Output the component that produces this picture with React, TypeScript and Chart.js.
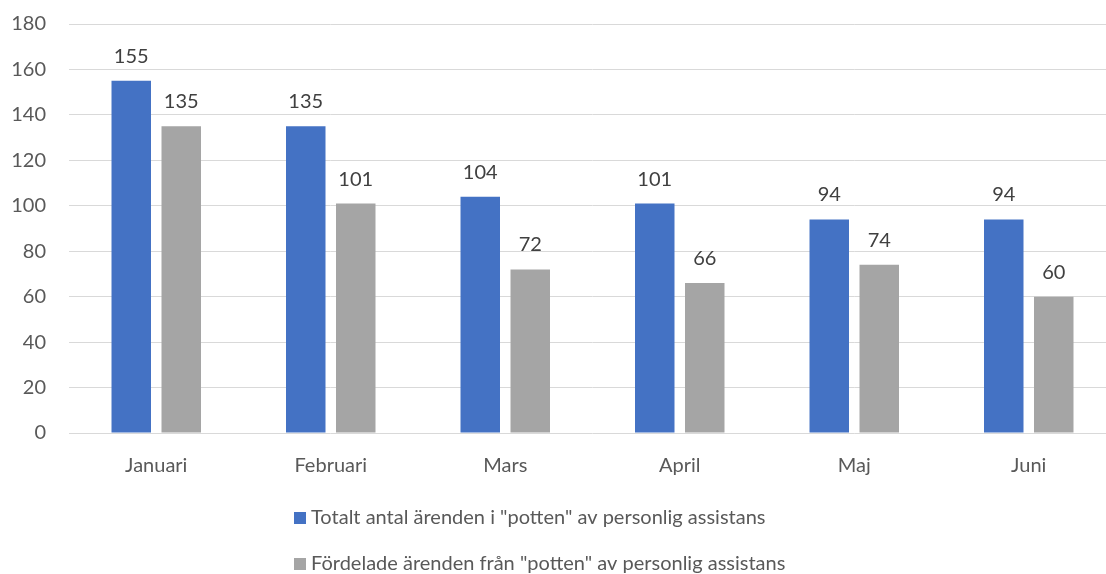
import React, { useEffect, useRef } from "react";
import { Chart, registerables } from "chart.js";

Chart.register(...registerables);

const months = ["Januari", "Februari", "Mars", "April", "Maj", "Juni"];
const totalCases = [155, 135, 104, 101, 94, 94];
const distributedCases = [135, 101, 72, 66, 74, 60];
const seriesLabels = [
  'Totalt antal ärenden i "potten" av personlig assistans',
  'Fördelade ärenden från "potten" av personlig assistans',
];
const seriesColors = ["#4472C4", "#A5A5A5"];
const yMin = 0;
const yMax = 180;
const yStep = 20;

const FONT = 'Lato, "Open Sans", sans-serif';
const FONT_SIZE = 20;

const dataLabelPlugin = {
  id: "dataLabels",
  afterDatasetsDraw(chart: any) {
    const ctx = chart.ctx;
    ctx.save();
    ctx.font = `${FONT_SIZE}px ${FONT}`;
    ctx.fillStyle = "#404040";
    ctx.textAlign = "center";
    ctx.textBaseline = "alphabetic";
    chart.data.datasets.forEach((ds: any, i: number) => {
      const meta = chart.getDatasetMeta(i);
      meta.data.forEach((bar: any, j: number) => {
        ctx.fillText(String(ds.data[j]), bar.x, bar.y - 18);
      });
    });
    ctx.restore();
  },
};

const stackedLegendPlugin = {
  id: "stackedLegend",
  afterDraw(chart: any) {
    const ctx = chart.ctx;
    ctx.save();
    ctx.font = `${FONT_SIZE}px ${FONT}`;
    ctx.textBaseline = "middle";
    ctx.textAlign = "left";
    const left = 294;
    const firstRow = 518;
    const rowGap = 46;
    chart.data.datasets.forEach((ds: any, i: number) => {
      const cy = firstRow + i * rowGap;
      ctx.fillStyle = ds.backgroundColor;
      ctx.fillRect(left, cy - 6, 12, 12);
      ctx.fillStyle = "#595959";
      ctx.fillText(ds.label, left + 17, cy);
    });
    ctx.restore();
  },
};

export default function App() {
  const canvasRef = useRef<HTMLCanvasElement | null>(null);

  useEffect(() => {
    if (!canvasRef.current) return;
    const chart = new Chart(canvasRef.current, {
      type: "bar",
      data: {
        labels: months,
        datasets: [
          {
            label: seriesLabels[0],
            data: totalCases,
            backgroundColor: seriesColors[0],
            categoryPercentage: 0.573,
            barPercentage: 0.79,
          },
          {
            label: seriesLabels[1],
            data: distributedCases,
            backgroundColor: seriesColors[1],
            categoryPercentage: 0.573,
            barPercentage: 0.79,
          },
        ],
      },
      options: {
        animation: false,
        responsive: false,
        maintainAspectRatio: false,
        layout: { padding: { top: 24, left: 0, right: 0, bottom: 0 } },
        plugins: {
          legend: { display: false },
          tooltip: { enabled: false },
        },
        scales: {
          x: {
            grid: { display: false, drawTicks: false },
            border: { display: false },
            ticks: {
              color: "#595959",
              font: { family: FONT, size: FONT_SIZE },
              padding: 21,
            },
            afterFit: (scale: any) => {
              scale.height = 141;
            },
          },
          y: {
            min: yMin,
            max: yMax,
            grid: { color: "#D9D9D9", lineWidth: 1, drawTicks: false },
            border: { display: false },
            ticks: {
              stepSize: yStep,
              color: "#595959",
              font: { family: FONT, size: FONT_SIZE },
              padding: 23,
            },
            afterFit: (scale: any) => {
              scale.width = 69;
              scale.paddingTop = 0;
              scale.paddingBottom = 0;
            },
          },
        },
      },
      plugins: [dataLabelPlugin, stackedLegendPlugin],
    });
    return () => chart.destroy();
  }, []);

  return (
    <div
      style={{
        position: "fixed",
        left: 0,
        top: 0,
        width: 1106,
        height: 574,
        overflow: "hidden",
        background: "#ffffff",
      }}
    >
      <canvas ref={canvasRef} width={1116} height={574} style={{ display: "block" }} />
    </div>
  );
}
